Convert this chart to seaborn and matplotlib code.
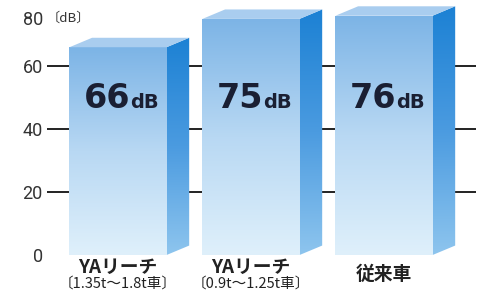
import seaborn as sns
import matplotlib.pyplot as plt
import numpy as np
from matplotlib.patches import Polygon
from matplotlib.colors import LinearSegmentedColormap

# data
models = ["YAリーチ", "YAリーチ", "従来車"]
subtitles = ["〔1.35t～1.8t車〕", "〔0.9t～1.25t車〕", ""]
noise_db = [66, 75, 76]
yticks = [0, 20, 40, 60]

sns.set_theme(style="white")
plt.rcParams['font.family'] = ['Noto Sans CJK JP', 'DejaVu Sans']

fig = plt.figure(figsize=(5, 2.95), dpi=100)
ax = fig.add_axes([47 / 500, 40 / 295, 453 / 500, 255 / 295])

sns.barplot(x=list(range(len(noise_db))), y=noise_db, width=0.73,
            color="#9cc6ec", ax=ax, zorder=3)

front = LinearSegmentedColormap.from_list("front", ["#dff0fb", "#b8d8f3", "#7cb4e6"])
side = LinearSegmentedColormap.from_list("side", ["#8ec5ee", "#4b9be0", "#1c81d4"])
grad = np.linspace(0, 1, 256).reshape(-1, 1)

depth, rise = 0.17, 3.0
for p, v in zip(ax.patches, noise_db):
    x0, x1 = p.get_x(), p.get_x() + p.get_width()
    p.set_facecolor("none")
    p.set_edgecolor("none")
    im = ax.imshow(grad, extent=(x0, x1, 0, v), origin="lower", aspect="auto",
                   cmap=front, zorder=3)
    im.set_clip_path(p)
    sp = Polygon([(x1, 0), (x1, v), (x1 + depth, v + rise), (x1 + depth, rise)],
                 closed=True, facecolor="none", edgecolor="none", zorder=3)
    ax.add_patch(sp)
    im2 = ax.imshow(grad, extent=(x1, x1 + depth, 0, v + rise), origin="lower",
                    aspect="auto", cmap=side, zorder=3)
    im2.set_clip_path(sp)
    tp = Polygon([(x0, v), (x0 + depth, v + rise), (x1 + depth, v + rise), (x1, v)],
                 closed=True, facecolor="#a9cdef", edgecolor="none", zorder=3)
    ax.add_patch(tp)
    xc = (x0 + x1) / 2
    ax.text(xc + 0.09, 46.7, str(v), ha="right", va="baseline", fontsize=24,
            fontweight="bold", family="DejaVu Sans", color="#1a1f33", zorder=5)
    ax.text(xc + 0.09, 46.7, "dB", ha="left", va="baseline", fontsize=14,
            fontweight="bold", family="DejaVu Sans", color="#1a1f33", zorder=5)

# tick dashes peeking between bars
ax.hlines([20, 40, 60], -0.6, 2.69, color="#222222", lw=1.4, zorder=1)

ax.set_xlim(-0.534, 2.872)
ax.set_ylim(0, 81)
ax.set_yticks(yticks)
ax.set_yticklabels([str(t) for t in yticks], fontsize=13, family="Roboto", color="#333333")
ax.tick_params(axis="y", length=0, pad=3)
ax.set_xticks([])
for s in ax.spines.values():
    s.set_visible(False)

ax.annotate("80", xy=(0, 74.8), xycoords=("axes fraction", "data"), xytext=(-3, 0),
            textcoords="offset points", ha="right", va="center", fontsize=13,
            family="Roboto", color="#333333")
ax.annotate("〔dB〕", xy=(0, 75.2), xycoords=("axes fraction", "data"), xytext=(0, 0),
            textcoords="offset points", ha="left", va="center", fontsize=9.5,
            color="#333333")

tr = ax.get_xaxis_transform()
for i, (m, s) in enumerate(zip(models, subtitles)):
    x = ax.patches[i].get_x() + ax.patches[i].get_width() / 2
    if s:
        ax.text(x, -0.05, m, transform=tr, ha="center", va="center", fontsize=13.5,
                fontweight="bold", color="#222222")
        ax.text(x, -0.112, s, transform=tr, ha="center", va="center", fontsize=10.5,
                color="#222222")
    else:
        ax.text(x, -0.078, m, transform=tr, ha="center", va="center", fontsize=13.5,
                fontweight="bold", color="#222222")

fig.savefig("out.png", dpi=100)
